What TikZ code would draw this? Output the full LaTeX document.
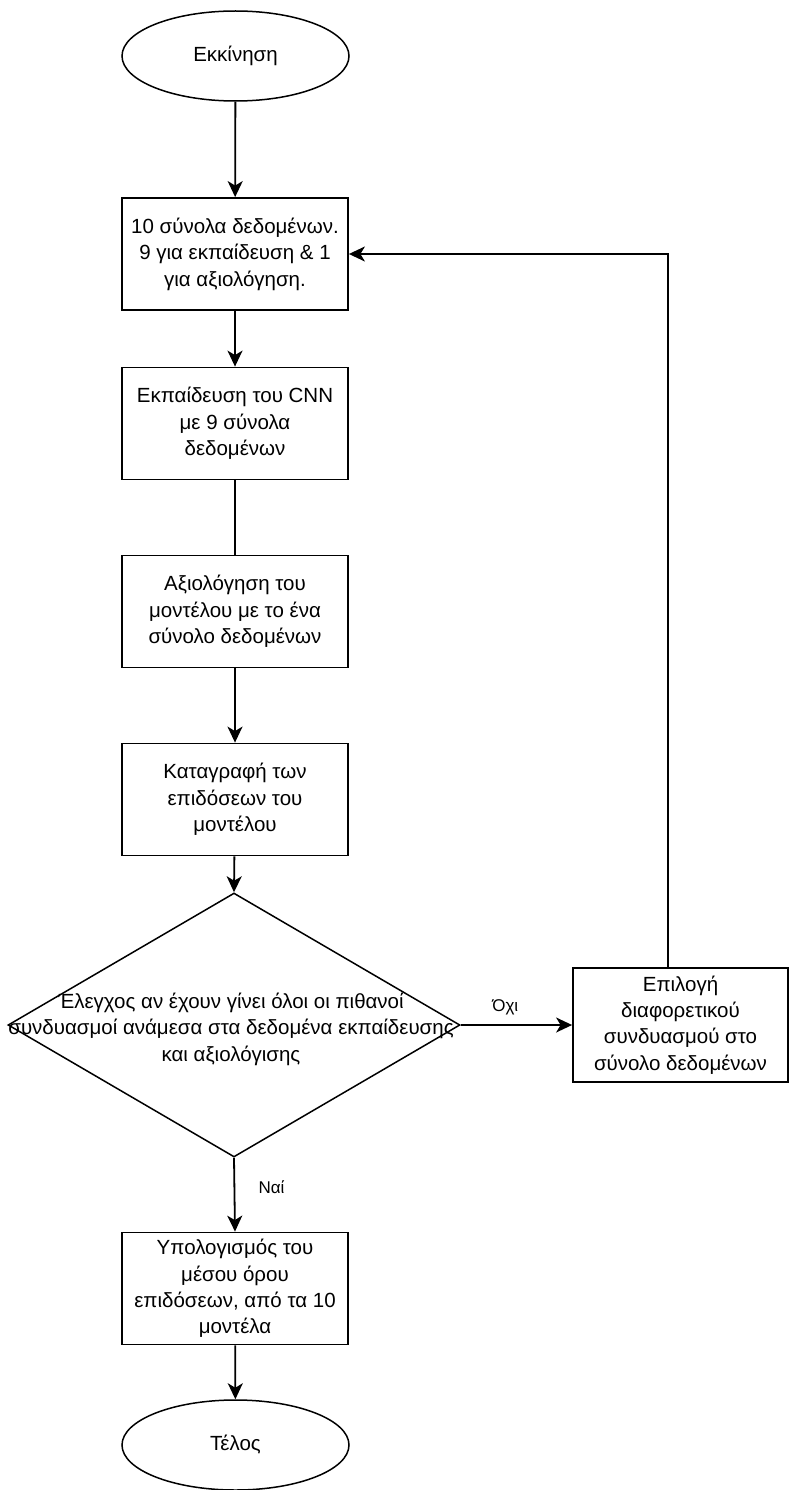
\documentclass[tikz,border=0pt]{standalone}
\usepackage{fontspec}
\setmainfont{Liberation Sans}
\usetikzlibrary{shapes.geometric,arrows.meta}

\tikzset{
  every node/.style={font=\fontsize{20.5}{26.4}\selectfont, align=center},
  stepbox/.style={draw, line width=1.8pt, rectangle, minimum width=226pt, minimum height=112pt, inner sep=0pt},
  terminal/.style={draw, line width=1.5pt, ellipse, minimum width=227pt, minimum height=90pt, inner sep=0pt},
  decision/.style={draw, line width=1.5pt, diamond, minimum width=452pt, minimum height=264pt, inner sep=0pt},
  flow/.style={line width=1.8pt, -{Stealth[length=16pt, width=15pt, inset=4.5pt]}},
  plain/.style={line width=1.8pt},
  edgelabel/.style={font=\fontsize{17}{20}\selectfont}
}

\begin{document}
\begin{tikzpicture}[x=1pt, y=-1pt]
  \useasboundingbox (0,0) rectangle (790,1490);

  % main column
  \node[terminal] (start) at (235.5,56) {Εκκίνηση};
  \node[stepbox] (split) at (235,254) {10 σύνολα δεδομένων.\\9 για εκπαίδευση \& 1\\για αξιολόγηση.};
  \node[stepbox] (train) at (235,423.5) {Εκπαίδευση του CNN\\με 9 σύνολα\\δεδομένων};
  \node[stepbox] (eval) at (235,611.5) {Αξιολόγηση του\\μοντέλου με το ένα\\σύνολο δεδομένων};
  \node[stepbox] (record) at (235,799.5) {Καταγραφή των\\επιδόσεων του\\μοντέλου};
  \node[decision] (check) at (234,1025) {};
  \node (checktext) at (231,1029) {Έλεγχος αν έχουν γίνει όλοι οι πιθανοί\\συνδυασμοί ανάμεσα στα δεδομένα εκπαίδευσης\\και αξιολόγισης};
  \node[stepbox] (mean) at (235,1288.5) {Υπολογισμός του\\μέσου όρου\\επιδόσεων, από τα 10\\μοντέλα};
  \node[terminal] (stop) at (235.5,1445) {Τέλος};

  % loop-back branch
  \node[stepbox, minimum width=215pt, minimum height=114pt] (next) at (680.5,1025) {Επιλογή\\διαφορετικού\\συνδυασμού στο\\σύνολο δεδομένων};
  \coordinate (riser) at (668,254);

  % connectors
  \draw[flow] (start) -- (split);
  \draw[flow] (split) -- (train);
  \draw[plain] (train) -- (eval);
  \draw[flow] (eval) -- (record);
  \draw[flow] (record) -- (check.north);
  \draw[flow] (check.east) -- node[edgelabel, above=6pt, pos=0.4] (nolabel) {Όχι} (next.west);
  \draw[flow] (check.south) -- node[edgelabel, right=20pt, pos=0.4] (yeslabel) {Ναί} (mean.north);
  \draw[flow] (mean) -- (stop);
  \draw[flow] (next.north -| riser) |- (split.east);
\end{tikzpicture}
\end{document}
